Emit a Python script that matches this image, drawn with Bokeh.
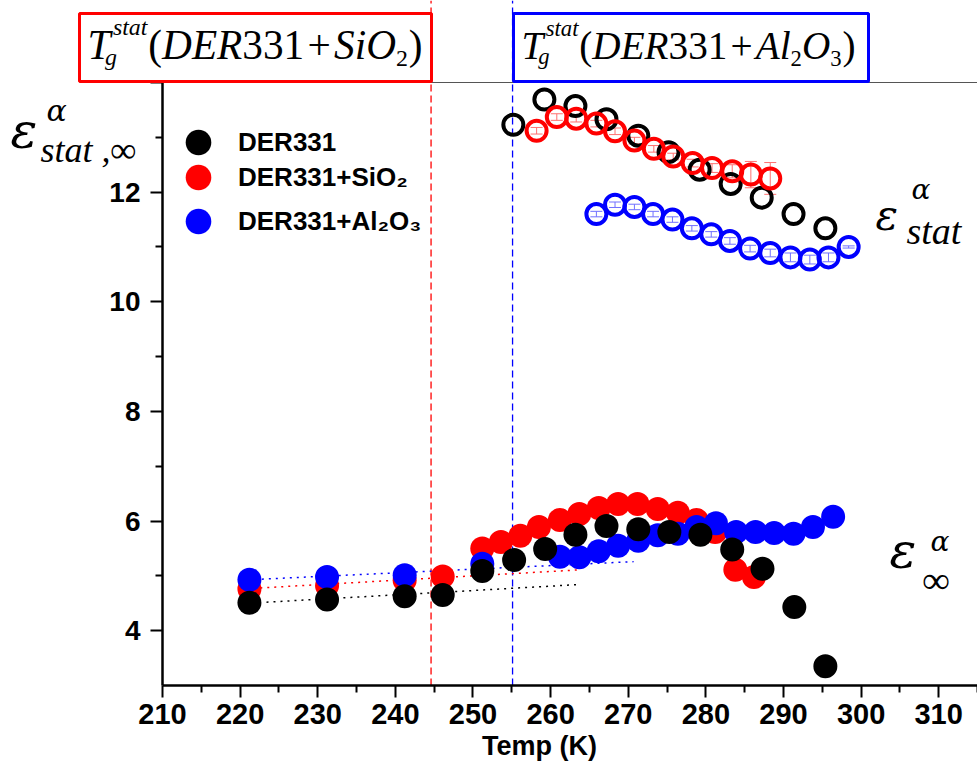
from bokeh.plotting import figure
from bokeh.models import (ColumnDataSource, Range1d, FixedTicker, BoxAnnotation, LinearAxis,
                          Label, Legend, LegendItem, Whisker, TeeHead)
from bokeh.embed import file_html
from bokeh.resources import INLINE

# ---------------- data ----------------
# epsilon_infinity (filled symbols)
t_inf_der = [221.2, 231.2, 241.2, 246.1, 251.2, 255.3, 259.3, 263.2, 267.2, 271.3, 275.3, 279.3, 283.4, 287.3, 291.4, 295.4]
e_inf_der = [4.51, 4.57, 4.63, 4.65, 5.09, 5.29, 5.49, 5.75, 5.91, 5.85, 5.80, 5.75, 5.48, 5.13, 4.43, 3.35]

t_inf_sio = [221.2, 231.2, 241.2, 246.1, 251.2, 253.6, 256.1, 258.5, 261.2, 263.7, 266.2, 268.7, 271.2, 273.8, 276.4, 278.8, 281.2, 283.8, 286.2]
e_inf_sio = [4.76, 4.82, 4.92, 4.99, 5.50, 5.62, 5.73, 5.89, 6.02, 6.13, 6.24, 6.31, 6.31, 6.22, 6.15, 6.02, 5.80, 5.11, 4.98]

t_inf_al = [221.2, 231.2, 241.2, 251.2, 261.2, 263.7, 266.2, 268.7, 271.3, 273.8, 276.4, 278.8, 281.3, 283.9, 286.4, 288.8, 291.3, 293.8, 296.4]
e_inf_al = [4.93, 4.98, 5.01, 5.22, 5.35, 5.34, 5.45, 5.55, 5.64, 5.74, 5.77, 5.89, 5.96, 5.80, 5.80, 5.78, 5.77, 5.89, 6.08]

# linear fits (dotted)
fit_t_der = [223.4, 263.4]
fit_e_der = [4.52, 4.84]
fit_t_sio = [222.6, 263.7]
fit_e_sio = [4.78, 5.11]
fit_t_al = [222.8, 270.7]
fit_e_al = [4.94, 5.26]

# epsilon_stat (open symbols)
t_st_der = [255.2, 259.2, 263.2, 267.2, 271.3, 275.2, 279.2, 283.2, 287.2, 291.3, 295.4]
e_st_der = [13.23, 13.69, 13.57, 13.33, 13.03, 12.73, 12.41, 12.15, 11.90, 11.60, 11.34]

t_st_sio = [258.2, 260.8, 263.3, 265.9, 268.3, 270.8, 273.3, 275.8, 278.3, 280.8, 283.4, 285.8, 288.3]
e_st_sio = [13.12, 13.37, 13.34, 13.25, 13.11, 12.94, 12.79, 12.65, 12.53, 12.44, 12.38, 12.32, 12.25]
err_st_sio = [0.06, 0.06, 0.06, 0.06, 0.06, 0.06, 0.06, 0.06, 0.07, 0.08, 0.12, 0.24, 0.29]

t_st_al = [265.9, 268.3, 270.8, 273.2, 275.7, 278.2, 280.7, 283.1, 285.7, 288.3, 290.9, 293.4, 295.8, 298.4]
e_st_al = [11.60, 11.77, 11.73, 11.60, 11.50, 11.34, 11.23, 11.11, 10.97, 10.89, 10.81, 10.77, 10.81, 11.00]
err_st_al = [0.05, 0.05, 0.05, 0.05, 0.05, 0.05, 0.05, 0.06, 0.06, 0.07, 0.08, 0.08, 0.08, 0.02]

# glass transition temperatures (dashed lines)
tg_sio = 244.6
tg_al = 255.1

x_ticks = [210, 220, 230, 240, 250, 260, 270, 280, 290, 300, 310]
x_minor = [215, 225, 235, 245, 255, 265, 275, 285, 295, 305, 315]
y_ticks = [4, 6, 8, 10, 12, 14]
y_minor = [5, 7, 9, 11, 13]
x_axis_span = (210, 315.0)
y_axis_span = (3, 14)

legend_labels = ["DER331", "DER331+SiO\u2082", "DER331+Al\u2082O\u2083"]
x_title = "Temp (K)"

BLACK, RED, BLUE = "#000000", "#ff0000", "#0000ff"
SANS = "Liberation Sans"
SERIF = "Liberation Serif"
GREEK = "DejaVu Serif"

# ---------------- figure ----------------
W, H = 977, 773
X0, X1 = 189.13, 315.0      # whole canvas width in data units
Y0, Y1 = 1.395, 15.496      # whole canvas height in data units
p = figure(width=W, height=H, x_range=Range1d(X0, X1), y_range=Range1d(Y0, Y1),
           output_backend="svg", toolbar_location=None,
           x_axis_location=None, y_axis_location=None,
           min_border_left=0, min_border_right=0, min_border_top=0, min_border_bottom=0)
p.outline_line_color = None
p.xgrid.visible = False
p.ygrid.visible = False
p.background_fill_color = "white"
p.border_fill_color = "white"

# page pixel -> data helpers for annotation placement
def dx(px):
    return X0 + px * (X1 - X0) / W
def dy(py):
    return Y1 - py * (Y1 - Y0) / H

# axes drawn at fixed data positions inside the frame
xa = LinearAxis(fixed_location=y_axis_span[0], bounds=x_axis_span,
                ticker=FixedTicker(ticks=x_ticks, minor_ticks=x_minor))
ya = LinearAxis(fixed_location=x_axis_span[0], bounds=y_axis_span,
                ticker=FixedTicker(ticks=y_ticks, minor_ticks=y_minor))
for ax, fs in ((xa, "29px"), (ya, "28px")):
    ax.axis_line_width = 2.5
    ax.axis_line_color = BLACK
    ax.major_tick_line_width = 2
    ax.minor_tick_line_width = 2
    ax.major_tick_in = 0
    ax.major_tick_out = 12
    ax.minor_tick_in = 0
    ax.minor_tick_out = 7
    ax.major_label_text_font = SANS
    ax.major_label_text_font_style = "bold"
    ax.major_label_text_font_size = fs
    ax.major_label_text_color = BLACK
xa.major_label_standoff = 6
ya.major_label_standoff = 10
ya.major_label_overrides = {14: ""}   # hidden behind the red box in the original
p.add_layout(xa, "below")
p.add_layout(ya, "left")

# frame top line and Tg lines
p.segment(x0=[x_axis_span[0]], y0=[y_axis_span[1]], x1=[x_axis_span[1]], y1=[y_axis_span[1]],
          line_color="#555555", line_width=1)
p.segment(x0=[tg_sio], y0=[y_axis_span[0]], x1=[tg_sio], y1=[Y1],
          line_color=RED, line_width=1.3, line_dash="7 4")
p.segment(x0=[tg_al], y0=[y_axis_span[0]], x1=[tg_al], y1=[Y1],
          line_color=BLUE, line_width=1.3, line_dash="7 4")

# fit lines
p.line(fit_t_der, fit_e_der, line_color=BLACK, line_width=1.5, line_dash="2 5")
p.line(fit_t_sio, fit_e_sio, line_color=RED, line_width=1.5, line_dash="2 5")
p.line(fit_t_al, fit_e_al, line_color=BLUE, line_width=1.5, line_dash="2 5")

# open symbols (eps_stat)
p.scatter(t_st_der, e_st_der, size=20, fill_color=None, line_color=BLACK, line_width=4)
src_sio = ColumnDataSource(dict(t=t_st_sio, e=e_st_sio,
                                up=[e + d for e, d in zip(e_st_sio, err_st_sio)],
                                lo=[e - d for e, d in zip(e_st_sio, err_st_sio)]))
src_al = ColumnDataSource(dict(t=t_st_al, e=e_st_al,
                               up=[e + d for e, d in zip(e_st_al, err_st_al)],
                               lo=[e - d for e, d in zip(e_st_al, err_st_al)]))
p.scatter("t", "e", source=src_sio, size=20, fill_color=None, line_color=RED, line_width=4)
p.scatter("t", "e", source=src_al, size=20, fill_color=None, line_color=BLUE, line_width=4)
for src, col in ((src_sio, "#ff7070"), (src_al, "#7070ff")):
    p.add_layout(Whisker(source=src, base="t", upper="up", lower="lo", dimension="height",
                         line_color=col, line_width=1,
                         upper_head=TeeHead(size=12, line_color=col, line_width=1),
                         lower_head=TeeHead(size=12, line_color=col, line_width=1)))

# filled symbols (eps_inf)
r_sio = p.scatter(t_inf_sio, e_inf_sio, size=24, fill_color=RED, line_color=None)
r_al = p.scatter(t_inf_al, e_inf_al, size=24, fill_color=BLUE, line_color=None)
r_der = p.scatter(t_inf_der, e_inf_der, size=24, fill_color=BLACK, line_color=None)

# legend: one single-item legend per row (rows are closer than the glyph box)
GLY = 64
for lab, rend, (cx, cy) in zip(legend_labels, (r_der, r_sio, r_al),
                               ((198, 142), (198, 177), (198, 221))):
    p.add_layout(Legend(items=[LegendItem(label=lab, renderers=[rend])],
                        location=(cx - GLY / 2, H - (cy + GLY / 2)),
                        glyph_width=GLY, glyph_height=GLY, spacing=0,
                        padding=0, margin=0, label_standoff=8,
                        label_text_font=SANS, label_text_font_style="bold",
                        label_text_font_size="26px", label_text_color=BLACK,
                        background_fill_alpha=0, border_line_color=None))

# ---------------- text annotations ----------------
W_REG = {'(': 333, ')': 333, '1': 500, '2': 500, '3': 500, '+': 564, ',': 250, ' ': 250}
W_IT = {'A': 611, 'D': 722, 'E': 611, 'R': 611, 'S': 500, 'O': 722, 'T': 556, 'a': 500,
        'g': 500, 'i': 278, 'l': 278, 's': 389, 't': 278}
BASE_SHIFT = 0.33   # em; Label's alphabetic baseline lands this much lower

def tw(text, italic):
    tab = W_IT if italic else W_REG
    return sum(tab.get(c, 500) for c in text) / 1000.0

def label(text, px, py, size, italic=True, color=BLACK, font=SERIF, style=None, align="left"):
    p.add_layout(Label(x=dx(px), y=dy(py - BASE_SHIFT * size), text=text, text_font=font,
                       text_font_size=f"{size:.1f}px",
                       text_font_style=style or ("italic" if italic else "normal"),
                       text_color=color, text_align=align, text_baseline="alphabetic"))

def tg_expression(x_start, x_end, base, tail):
    # tail items: (text, italic, is_subscript, gap_before_em, gap_after_em)
    SUB = 0.58
    em = 0.556 + 0.06 + SUB * tw("stat", True) + 0.02
    for text, it, sub, g0, g1 in tail:
        em += (SUB if sub else 1.0) * tw(text, it) + g0 + g1
    F = (x_end - x_start) / em
    label("T", x_start, base, F)
    x = x_start + 0.556 * F
    label("stat", x + 0.06 * F, base - 0.58 * F, SUB * F)
    label("g", x - 0.13 * F, base + 0.15 * F, SUB * F)
    x = x + 0.06 * F + SUB * tw("stat", True) * F + 0.02 * F
    for text, it, sub, g0, g1 in tail:
        x += g0 * F
        if sub:
            label(text, x, base + 0.2 * F, SUB * F, italic=False)
            x += SUB * tw(text, it) * F
        else:
            label(text, x, base, F, italic=it)
            x += tw(text, it) * F
        x += g1 * F

# boxes
p.add_layout(BoxAnnotation(left=dx(79), right=dx(431), top=dy(13), bottom=dy(81),
                           fill_color="white", fill_alpha=1, line_color=RED, line_alpha=1,
                           line_width=3))
p.add_layout(BoxAnnotation(left=dx(513), right=dx(868), top=dy(13), bottom=dy(81),
                           fill_color="white", fill_alpha=1, line_color=BLUE, line_alpha=1,
                           line_width=3))

tg_expression(87, 422, 58, [("(", False, False, 0, 0), ("DER", True, False, 0, 0),
                            ("331", False, False, 0, 0), ("+", False, False, 0.08, 0.08),
                            ("SiO", True, False, 0, 0), ("2", False, True, 0, 0),
                            (")", False, False, 0.02, 0)])
tg_expression(521, 855, 58, [("(", False, False, 0, 0), ("DER", True, False, 0, 0),
                             ("331", False, False, 0, 0), ("+", False, False, 0.08, 0.08),
                             ("Al", True, False, 0, 0), ("2", False, True, 0, 0),
                             ("O", True, False, 0, 0), ("3", False, True, 0, 0),
                             (")", False, False, 0.02, 0)])

# x-axis title
label(x_title, 539, 754, 27, font=SANS, style="bold", align="center")

# y-axis title  eps^alpha_{stat,inf}
label("\u03b5", 10, 147, 50, font=GREEK)
label("\u03b1", 46, 120, 30, font=GREEK)
label("stat ,\u221e", 40, 161, 36)

# eps_stat label (right)
label("\u03b5", 875, 229, 42, font=GREEK)
label("\u03b1", 911, 198, 28, font=GREEK)
label("stat", 906, 243, 38)

# eps_inf label (right)
label("\u03b5", 889, 567, 50, font=GREEK)
label("\u03b1", 930, 550, 28, font=GREEK)
label("\u221e", 922, 592, 38)

open("out.html", "w").write(file_html(p, INLINE))
